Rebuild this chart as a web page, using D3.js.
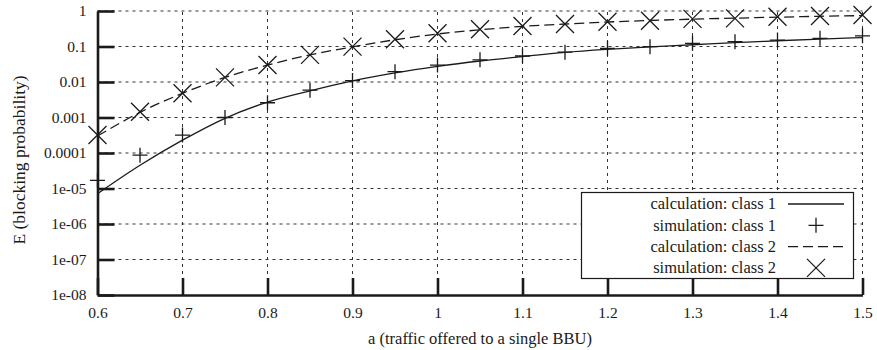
<!DOCTYPE html>
<html>
<head>
<meta charset="utf-8">
<script src="https://cdn.jsdelivr.net/npm/d3@7"></script>
<style>
  body { margin: 0; background: #fff; }
  svg { display: block; }
</style>
</head>
<body>
<svg id="chart" width="877" height="350"></svg>
<script>
// traffic offered to a single BBU
const loads = [0.6, 0.65, 0.7, 0.75, 0.8, 0.85, 0.9, 0.95, 1.0, 1.05, 1.1, 1.15, 1.2, 1.25, 1.3, 1.35, 1.4, 1.45, 1.5];

// blocking probabilities
const calcClass1 = [7.1e-6, 4.5e-5, 2.3e-4, 9.5e-4, 2.7e-3, 5.6e-3, 0.0107, 0.018, 0.0275, 0.039, 0.052, 0.068, 0.083, 0.098, 0.112, 0.129, 0.145, 0.162, 0.178];
const simClass1 = [1.7e-5, 8.7e-5, 3.2e-4, 1.0e-3, 2.6e-3, 5.9e-3, 0.011, 0.0195, 0.030, 0.042, 0.054, 0.069, 0.089, 0.099, 0.123, 0.137, 0.152, 0.17, 0.2];
const calcClass2 = [3.0e-4, 1.4e-3, 4.8e-3, 0.0135, 0.03, 0.058, 0.098, 0.155, 0.225, 0.295, 0.37, 0.43, 0.49, 0.54, 0.59, 0.63, 0.67, 0.71, 0.74];
const simClass2 = [3.2e-4, 1.45e-3, 4.8e-3, 0.0135, 0.030, 0.058, 0.099, 0.16, 0.235, 0.305, 0.38, 0.43, 0.50, 0.53, 0.60, 0.62, 0.69, 0.72, 0.77];

const xTicks = [0.6, 0.7, 0.8, 0.9, 1.0, 1.1, 1.2, 1.3, 1.4, 1.5];
const yTicks = [1, 0.1, 0.01, 0.001, 0.0001, 1e-5, 1e-6, 1e-7, 1e-8];
const yTickLabels = ['1', '0.1', '0.01', '0.001', '0.0001', '1e-05', '1e-06', '1e-07', '1e-08'];

const legendItems = [
  { label: 'calculation: class 1', kind: 'line', dash: null },
  { label: 'simulation: class 1', kind: 'plus' },
  { label: 'calculation: class 2', kind: 'line', dash: '10,5' },
  { label: 'simulation: class 2', kind: 'cross' }
];

const ink = '#1a1a1a';
const font = 'Liberation Serif';
const width = 877, height = 350;
const margin = { left: 97.5, right: width - 862.5, top: 11, bottom: height - 295 };

const svg = d3.select('#chart');

const x = d3.scaleLinear().domain([0.6, 1.5]).range([margin.left, width - margin.right]);
const y = d3.scaleLog().domain([1e-8, 1]).range([height - margin.bottom, margin.top]);

// grid
const grid = svg.append('g')
  .attr('stroke', '#333')
  .attr('stroke-width', 1)
  .attr('stroke-dasharray', '3,4');

grid.selectAll('line.gx')
  .data(xTicks.slice(1))
  .enter()
  .append('line')
  .attr('x1', d => x(d)).attr('x2', d => x(d))
  .attr('y1', y(1e-8)).attr('y2', y(1));

grid.selectAll('line.gy')
  .data(yTicks.slice(0, -1))
  .enter()
  .append('line')
  .attr('x1', x(0.6)).attr('x2', x(1.5))
  .attr('y1', d => y(d)).attr('y2', d => y(d));

// axes (ticks drawn inward like gnuplot)
const xAxis = d3.axisBottom(x)
  .tickValues(xTicks)
  .tickSizeInner(-17)
  .tickSizeOuter(0)
  .tickPadding(11.5)
  .tickFormat(d3.format('~g'));

const yAxis = d3.axisLeft(y)
  .tickValues(yTicks)
  .tickSizeInner(-17)
  .tickSizeOuter(0)
  .tickPadding(11)
  .tickFormat((d, i) => yTickLabels[i]);

const gx = svg.append('g')
  .attr('transform', `translate(0,${y(1e-8)})`)
  .call(xAxis);

const gy = svg.append('g')
  .attr('transform', `translate(${x(0.6)},0)`)
  .call(yAxis);

[gx, gy].forEach(g => {
  g.attr('font-family', null).attr('font-size', null);
  g.select('.domain').attr('stroke', ink).attr('stroke-width', 2.6);
  g.selectAll('.tick line').attr('stroke', ink).attr('stroke-width', 2.6);
  g.selectAll('.tick text')
    .attr('fill', ink)
    .style('font-family', font)
    .style('font-size', '15.5px');
});

// axis titles
svg.append('text')
  .attr('x', (x(0.6) + x(1.5)) / 2)
  .attr('y', 344)
  .attr('text-anchor', 'middle')
  .style('font-family', font)
  .style('font-size', '16.5px')
  .attr('fill', ink)
  .text('a (traffic offered to a single BBU)');

svg.append('text')
  .attr('transform', `translate(25,160) rotate(-90)`)
  .attr('text-anchor', 'middle')
  .style('font-family', font)
  .style('font-size', '17.5px')
  .attr('fill', ink)
  .text('E (blocking probability)');

// curves
const lineGen = values => d3.line()
  .x((d, i) => x(loads[i]))
  .y(d => y(d))
  .curve(d3.curveMonotoneX)(values);

svg.append('path')
  .attr('d', lineGen(calcClass1))
  .attr('fill', 'none')
  .attr('stroke', ink)
  .attr('stroke-width', 1.3);

svg.append('path')
  .attr('d', lineGen(calcClass2))
  .attr('fill', 'none')
  .attr('stroke', ink)
  .attr('stroke-width', 1.3)
  .attr('stroke-dasharray', '10,5');

// markers
function plusPath(cx, cy, r) {
  return `M${cx - r},${cy}H${cx + r}M${cx},${cy - r}V${cy + r}`;
}
function crossPath(cx, cy, r) {
  return `M${cx - r},${cy - r}L${cx + r},${cy + r}M${cx - r},${cy + r}L${cx + r},${cy - r}`;
}

svg.append('g')
  .selectAll('path')
  .data(simClass1)
  .enter()
  .append('path')
  .attr('d', (d, i) => plusPath(x(loads[i]), y(d), 7.5))
  .attr('stroke', ink)
  .attr('stroke-width', 1.3)
  .attr('fill', 'none');

svg.append('g')
  .selectAll('path')
  .data(simClass2)
  .enter()
  .append('path')
  .attr('d', (d, i) => crossPath(x(loads[i]), y(d), 9))
  .attr('stroke', ink)
  .attr('stroke-width', 1.3)
  .attr('fill', 'none');

// legend
const legend = svg.append('g');
legend.append('rect')
  .attr('x', 581.5).attr('y', 192.5)
  .attr('width', 272).attr('height', 86)
  .attr('fill', '#fff')
  .attr('stroke', ink)
  .attr('stroke-width', 1.2);

const rows = legend.selectAll('g.row')
  .data(legendItems)
  .enter()
  .append('g')
  .attr('transform', (d, i) => `translate(0,${204 + i * 21.3})`);

rows.append('text')
  .attr('x', 776)
  .attr('dy', '0.33em')
  .attr('text-anchor', 'end')
  .style('font-family', font)
  .style('font-size', '16.5px')
  .attr('fill', ink)
  .text(d => d.label);

rows.filter(d => d.kind === 'line')
  .append('line')
  .attr('x1', 788).attr('x2', 844)
  .attr('stroke', ink)
  .attr('stroke-width', 1.3)
  .attr('stroke-dasharray', d => d.dash);

rows.filter(d => d.kind === 'plus')
  .append('path')
  .attr('d', plusPath(816, 0, 7.5))
  .attr('stroke', ink).attr('stroke-width', 1.3);

rows.filter(d => d.kind === 'cross')
  .append('path')
  .attr('d', crossPath(816, 0, 9))
  .attr('stroke', ink).attr('stroke-width', 1.3);
</script>
</body>
</html>
